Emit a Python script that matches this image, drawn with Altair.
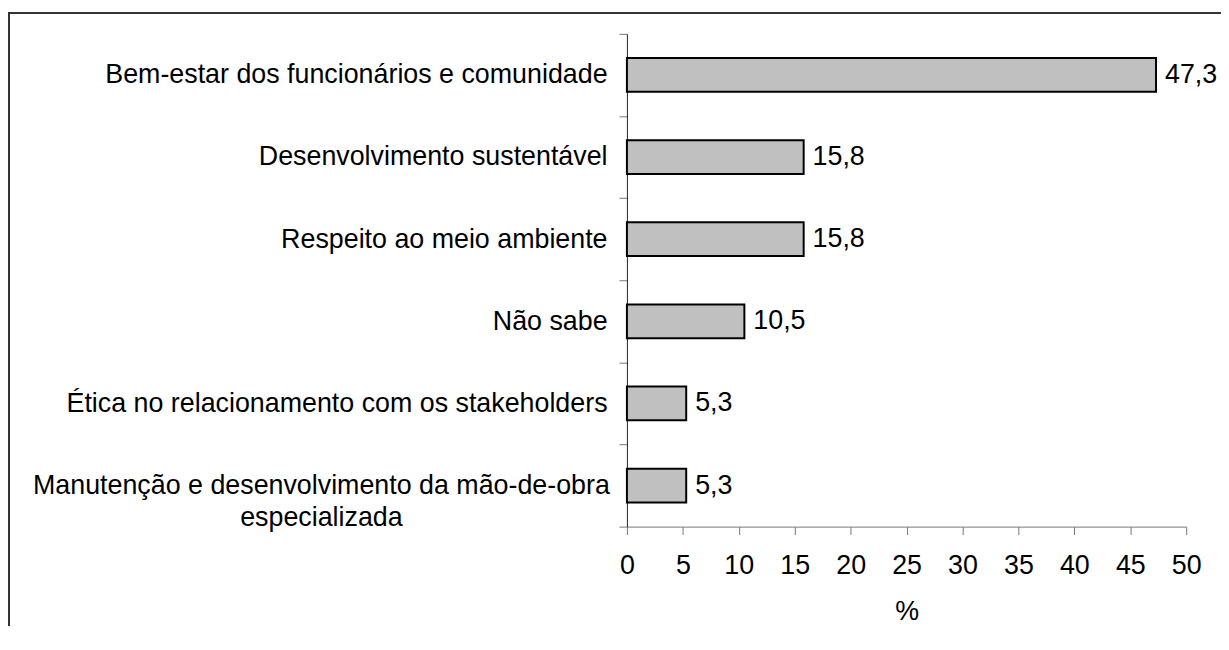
import json
import altair as alt
import pandas as pd

categories = [
    "Bem-estar dos funcionários e comunidade",
    "Desenvolvimento sustentável",
    "Respeito ao meio ambiente",
    "Não sabe",
    "Ética no relacionamento com os stakeholders",
    "Manutenção e desenvolvimento da mão-de-obra especializada",
]
values = [47.3, 15.8, 15.8, 10.5, 5.3, 5.3]
x_ticks = [0, 5, 10, 15, 20, 25, 30, 35, 40, 45, 50]
x_title = "%"
# how the long category is broken over two lines
wrapped_label = ["Manutenção e desenvolvimento da mão-de-obra", "especializada"]
wrapped_cat = categories[5]

df = pd.DataFrame({"cat": categories, "val": values})
frame_df = pd.DataFrame({"k": [0]})

FONT = "Liberation Sans"
FS = 27
multi_test = "datum.value == " + json.dumps(wrapped_cat, ensure_ascii=False)
label_expr = multi_test + " ? " + json.dumps(wrapped_label, ensure_ascii=False) + " : datum.value"

y_enc = alt.Y(
    "cat:N",
    sort=None,
    scale=alt.Scale(paddingInner=0, paddingOuter=0),
    axis=alt.Axis(
        title=None,
        tickBand="extent",
        tickSize=8,
        tickColor="#777777",
        domainColor="#222222",
        domainWidth=1,
        labelExpr=label_expr,
        labelAlign={"condition": {"test": multi_test, "value": "center"}, "value": "right"},
        labelPadding={"condition": {"test": multi_test, "value": 300}, "value": 12},
        labelLineHeight=32,
        labelFont=FONT,
        labelFontSize=FS,
        labelColor="black",
        labelLimit=0,
    ),
)

x_enc = alt.X(
    "val:Q",
    scale=alt.Scale(domain=[0, 50], nice=False),
    axis=alt.Axis(
        values=x_ticks,
        format="d",
        title=x_title,
        grid=False,
        tickSize=8,
        tickColor="#777777",
        domainColor="#777777",
        labelFlush=False,
        labelPadding=18,
        titlePadding=20,
        labelFont=FONT,
        labelFontSize=FS,
        labelColor="black",
        titleFont=FONT,
        titleFontSize=FS,
        titleFontWeight="normal",
        titleColor="black",
    ),
)

base = alt.Chart(df)

bars = base.mark_bar(size=34, fill="#c0c0c0", stroke="black", strokeWidth=2).encode(
    x=x_enc, y=y_enc
)

labels = base.transform_calculate(
    lab="replace(format(datum.val, '.1f'), '.', ',')"
).mark_text(
    align="left", baseline="middle", dx=9, font=FONT, fontSize=FS, color="black"
).encode(x="val:Q", y=alt.Y("cat:N", sort=None), text="lab:N")

frame_left = alt.Chart(frame_df).mark_rule(color="#333333", strokeWidth=2).encode(
    x=alt.value(-622), y=alt.value(-22), y2=alt.value(620)
)
frame_top = alt.Chart(frame_df).mark_rule(color="#333333", strokeWidth=2).encode(
    x=alt.value(-623), x2=alt.value(620), y=alt.value(-21)
)

chart = (
    alt.layer(bars, labels, frame_left, frame_top)
    .properties(
        width=563,
        height=496,
        autosize=alt.AutoSizeParams(type="none"),
        padding={"top": 24, "left": 623, "right": 35, "bottom": 98},
        background="white",
    )
    .configure_view(stroke=None)
)

chart.save("out.html", embed_options={"renderer": "svg", "actions": False})
